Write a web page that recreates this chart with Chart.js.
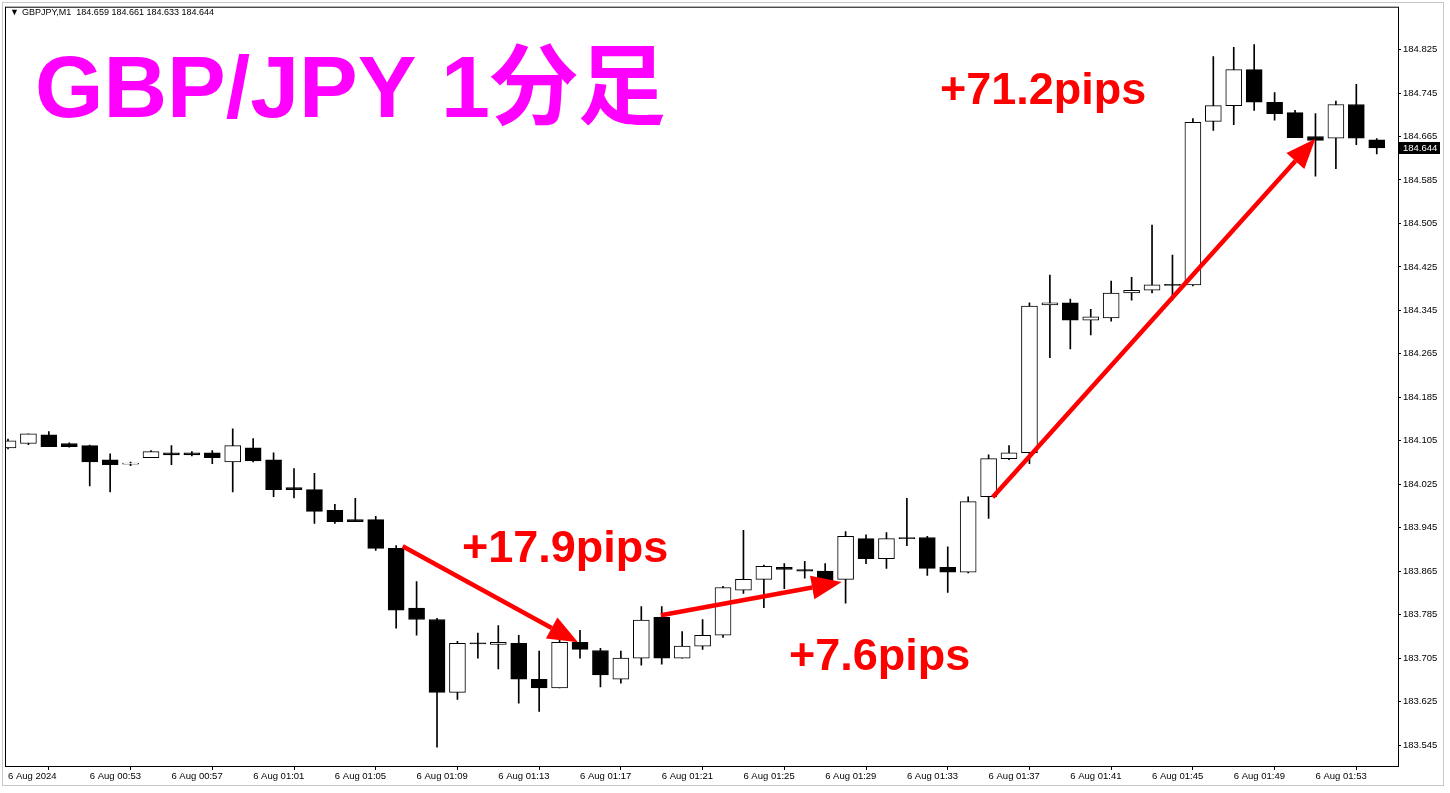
<!DOCTYPE html>
<html lang="ja">
<head>
<meta charset="UTF-8">
<title>GBP/JPY 1分足</title>
<style>
  html, body { margin: 0; padding: 0; background: #ffffff; }
  #wrap { width: 1450px; height: 793px; position: relative; }
</style>
</head>
<body>
<div id="wrap"><canvas id="chart" width="1450" height="793"></canvas></div>
<script src="https://cdn.jsdelivr.net/npm/chart.js"></script>
<script>
// minute bars, 6 Aug 2024 00:49 .. 01:56
const times = [
  '00:49','00:50','00:51','00:52','00:53','00:54','00:55','00:56','00:57','00:58',
  '00:59','01:00','01:01','01:02','01:03','01:04','01:05','01:06','01:07','01:08',
  '01:09','01:10','01:11','01:12','01:13','01:14','01:15','01:16','01:17','01:18',
  '01:19','01:20','01:21','01:22','01:23','01:24','01:25','01:26','01:27','01:28',
  '01:29','01:30','01:31','01:32','01:33','01:34','01:35','01:36','01:37','01:38',
  '01:39','01:40','01:41','01:42','01:43','01:44','01:45','01:46','01:47','01:48',
  '01:49','01:50','01:51','01:52','01:53','01:54','01:55','01:56'
];
const opens = [
  184.092,184.100,184.116,184.100,184.096,184.070,184.062,184.074,184.083,184.083,
  184.083,184.066,184.092,184.070,184.019,184.015,183.977,183.960,183.960,183.907,
  183.797,183.776,183.642,183.733,183.730,183.732,183.666,183.650,183.734,183.719,
  183.666,183.705,183.780,183.705,183.727,183.747,183.830,183.850,183.872,183.868,
  183.865,183.850,183.925,183.888,183.926,183.927,183.872,183.863,184.002,184.072,
  184.083,184.355,184.359,184.327,184.331,184.377,184.382,184.392,184.392,184.693,
  184.722,184.788,184.728,184.709,184.665,184.662,184.724,184.659
];
const highs = [
  184.108,184.118,184.122,184.101,184.097,184.081,184.066,184.087,184.096,184.085,
  184.087,184.127,184.109,184.083,184.054,184.045,183.988,183.999,183.966,183.912,
  183.846,183.778,183.736,183.751,183.765,183.747,183.718,183.738,183.756,183.723,
  183.718,183.800,183.800,183.754,183.776,183.837,183.940,183.876,183.879,183.883,
  183.879,183.938,183.932,183.936,183.999,183.929,183.910,184.002,184.079,184.096,
  184.359,184.410,184.366,184.347,184.399,184.406,184.502,184.447,184.698,184.812,
  184.829,184.834,184.746,184.713,184.707,184.730,184.761,184.661
];
const lows = [
  184.090,184.098,184.094,184.093,184.022,184.011,184.059,184.074,184.061,184.077,
  184.063,184.011,184.066,184.002,184.000,183.953,183.953,183.956,183.903,183.760,
  183.747,183.541,183.629,183.705,183.685,183.622,183.607,183.650,183.705,183.652,
  183.659,183.692,183.694,183.705,183.721,183.743,183.824,183.798,183.833,183.852,
  183.846,183.806,183.879,183.870,183.912,183.857,183.826,183.862,183.962,184.070,
  184.063,184.258,184.274,184.300,184.325,184.364,184.377,184.364,184.390,184.676,
  184.687,184.713,184.695,184.663,184.592,184.606,184.650,184.633
];
const closes = [
  184.105,184.118,184.094,184.094,184.066,184.061,184.063,184.085,184.079,184.079,
  184.074,184.096,184.068,184.015,184.015,183.975,183.956,183.956,183.907,183.793,
  183.776,183.642,183.732,183.731,183.734,183.666,183.650,183.734,183.721,183.674,
  183.705,183.775,183.705,183.727,183.747,183.835,183.850,183.874,183.868,183.865,
  183.846,183.929,183.888,183.925,183.925,183.870,183.863,183.993,184.072,184.083,
  184.353,184.359,184.327,184.333,184.377,184.382,184.392,184.391,184.691,184.722,
  184.788,184.728,184.707,184.663,184.658,184.724,184.662,184.644
];
const priceTicks = [183.545,183.625,183.705,183.785,183.865,183.945,184.025,184.105,
  184.185,184.265,184.345,184.425,184.505,184.585,184.665,184.745,184.825];

// red arrows: [barIndex, price] from -> to
const arrows = [
  { from: [19.32, 183.911], to: [27.9, 183.734] },
  { from: [31.96, 183.784], to: [40.81, 183.845] },
  { from: [48.2, 184.001], to: [64.0, 184.661] }
];
const pipLabels = [
  { text: '+17.9pips', x: 462, y: 562 },
  { text: '+7.6pips', x: 789, y: 670 },
  { text: '+71.2pips', x: 940, y: 104 }
];

const axisFont = { family: '"Liberation Sans", Arial, sans-serif', size: 9.5 };

const bodies = opens.map((o, i) => ({ x: i, y: [o, closes[i]] }));
const wicks = lows.map((l, i) => ({ x: i, y: [l, highs[i]] }));
const fills = opens.map((o, i) => closes[i] >= o ? '#ffffff' : '#000000');

const overlay = {
  id: 'overlay',
  beforeDraw(chart) {
    const c = chart.ctx;
    c.save();
    c.fillStyle = '#ffffff';
    c.fillRect(0, 0, chart.width, chart.height);
    c.strokeStyle = '#c8c8c8';
    c.lineWidth = 1;
    c.strokeRect(2.5, 2.5, 1441, 783);
    c.restore();
  },
  afterDraw(chart) {
    const c = chart.ctx;
    const a = chart.chartArea;
    const xs = chart.scales.x, ys = chart.scales.y;
    c.save();
    // frame
    c.strokeStyle = '#000';
    c.lineWidth = 1;
    c.strokeRect(a.left - 0.5, a.top - 0.5, a.right - a.left + 1, a.bottom - a.top + 1);

    // header line
    c.fillStyle = '#000';
    c.font = '9px "Liberation Sans", Arial, sans-serif';
    c.textBaseline = 'middle';
    c.fillText('\u25BC', 10, 13);
    c.fillText('GBPJPY,M1  ' + [opens[67], highs[67], lows[67], closes[67]].map(v => v.toFixed(3)).join(' '), 22, 13);

    // current price box
    const py = ys.getPixelForValue(closes[closes.length - 1]);
    c.fillStyle = '#000';
    c.fillRect(a.right + 1, Math.round(py) - 6, 41, 12);
    c.fillStyle = '#fff';
    c.font = '9.5px "Liberation Sans", Arial, sans-serif';
    c.fillText(closes[closes.length - 1].toFixed(3), a.right + 5, py);

    // title
    c.fillStyle = '#ff00ff';
    c.textBaseline = 'alphabetic';
    c.font = 'bold 88px "Liberation Sans", "Noto Sans CJK JP", sans-serif';
    c.fillText('GBP/JPY 1分足', 35, 117);

    // arrows
    c.strokeStyle = '#ff0000';
    c.fillStyle = '#ff0000';
    arrows.forEach(ar => {
      const x1 = xs.getPixelForValue(ar.from[0]), y1 = ys.getPixelForValue(ar.from[1]);
      const x2 = xs.getPixelForValue(ar.to[0]), y2 = ys.getPixelForValue(ar.to[1]);
      const ang = Math.atan2(y2 - y1, x2 - x1);
      const len = 30, half = 12;
      const bx = x2 - len * Math.cos(ang), by = y2 - len * Math.sin(ang);
      c.lineWidth = 4.5;
      c.beginPath();
      c.moveTo(x1, y1);
      c.lineTo(bx, by);
      c.stroke();
      c.beginPath();
      c.moveTo(x2, y2);
      c.lineTo(bx + half * Math.sin(ang), by - half * Math.cos(ang));
      c.lineTo(bx - half * Math.sin(ang), by + half * Math.cos(ang));
      c.closePath();
      c.fill();
    });

    // pip labels
    c.font = 'bold 45px "Liberation Sans", Arial, sans-serif';
    pipLabels.forEach(l => c.fillText(l.text, l.x, l.y));
    c.restore();
  }
};

new Chart(document.getElementById('chart'), {
  type: 'bar',
  data: {
    datasets: [
      {
        label: 'body',
        data: bodies,
        backgroundColor: fills,
        borderColor: '#000',
        borderWidth: 1,
        borderSkipped: false,
        barThickness: 16,
        minBarLength: 1,
        grouped: false,
        order: 1
      },
      {
        label: 'wick',
        data: wicks,
        backgroundColor: '#000',
        borderWidth: 0,
        barThickness: 1,
        grouped: false,
        order: 2
      }
    ]
  },
  options: {
    responsive: false,
    animation: false,
    devicePixelRatio: 1,
    layout: { padding: { left: 6, top: 6, right: 0, bottom: 0 } },
    plugins: { legend: { display: false }, tooltip: { enabled: false } },
    scales: {
      x: {
        type: 'linear',
        min: -0.098,
        max: 68.04,
        offset: false,
        afterBuildTicks: s => { s.ticks = times.map((t, i) => i).filter(i => i % 4 === 0 && i <= 64).map(v => ({ value: v })); },
        afterFit: s => { s.height = 27; },
        grid: { drawOnChartArea: false, drawTicks: true, tickLength: 4, color: '#000' },
        border: { display: true, color: '#000' },
        ticks: {
          align: 'start',
          maxRotation: 0,
          autoSkip: false,
          padding: 1,
          color: '#000',
          font: axisFont,
          callback: v => v === 0 ? '6 Aug 2024' : '6 Aug ' + times[v]
        }
      },
      y: {
        position: 'right',
        min: 183.5064,
        max: 184.9021,
        afterBuildTicks: s => { s.ticks = priceTicks.map(v => ({ value: v })); },
        afterFit: s => { s.width = 52; },
        grid: { drawOnChartArea: false, drawTicks: true, tickLength: 3, color: '#000' },
        border: { display: true, color: '#000' },
        ticks: {
          padding: 2,
          color: '#000',
          font: axisFont,
          callback: v => v.toFixed(3)
        }
      }
    }
  },
  plugins: [overlay]
});
</script>
</body>
</html>
